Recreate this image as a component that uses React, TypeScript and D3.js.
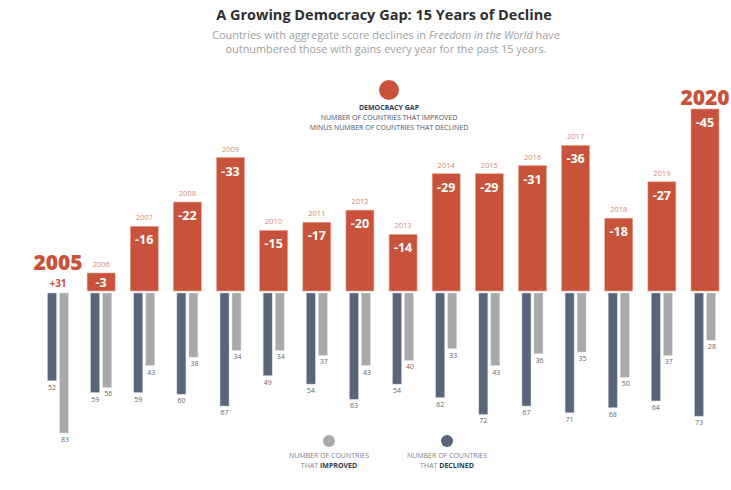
import React from "react";
import * as d3 from "d3";

const years = ["2005","2006","2007","2008","2009","2010","2011","2012","2013","2014","2015","2016","2017","2018","2019","2020"];
const improved = [83,56,43,38,34,34,37,43,40,33,43,36,35,50,37,28];
const declined = [52,59,59,60,67,49,54,63,54,62,72,67,71,68,64,73];
const gap = [31,-3,-16,-22,-33,-15,-17,-20,-14,-29,-29,-31,-36,-18,-27,-45];

const RED = "#c8523a";
const DARK = "#58657a";
const LIGHT = "#a9a9ab";
const FONT = "'Open Sans', Lato, sans-serif";

export default function App() {
  const W = 731, H = 490;
  const x = d3.scalePoint<string>().domain(years).range([58, 705]);
  const yGap = d3.scaleLinear().domain([0, 45]).range([291, 109]);
  const yLow = d3.scaleLinear().domain([0, 83]).range([293, 433]);
  const bw = 28, lw = 9;

  return (
    <svg width={W} height={H} style={{ position: "absolute", left: 0, top: 0, background: "#fff" }} fontFamily={FONT}>
      <text x={384} y={20} textAnchor="middle" fontSize={14.5} fontWeight={700} fill="#2e2e2e">A Growing Democracy Gap: 15 Years of Decline</text>
      <text x={386} y={39} textAnchor="middle" fontSize={10.9} fill="#a0a0a0">
        Countries with aggregate score declines in <tspan fontStyle="italic">Freedom in the World</tspan> have
      </text>
      <text x={386} y={53} textAnchor="middle" fontSize={10.9} fill="#a0a0a0">outnumbered those with gains every year for the past 15 years.</text>

      <circle cx={389} cy={90} r={10} fill={RED} />
      <text x={389} y={110} textAnchor="middle" fontSize={7} fontWeight={700} fill="#2f3a4e">DEMOCRACY GAP</text>
      <text x={389} y={120} textAnchor="middle" fontSize={7} fill="#4a5264">NUMBER OF COUNTRIES THAT IMPROVED</text>
      <text x={389} y={130} textAnchor="middle" fontSize={7} fill="#4a5264">MINUS NUMBER OF COUNTRIES THAT DECLINED</text>

      {years.map((yr, i) => {
        const cx = x(yr)!;
        const g = gap[i];
        const els: React.ReactNode[] = [];
        if (g < 0) {
          let top = yGap(-g);
          const h0 = yGap(0) - top;
          const h = Math.max(h0, 18);
          top = yGap(0) - h;
          els.push(<rect key="b" x={cx - bw / 2} y={top} width={bw} height={h} fill={RED} stroke="#e9a898" strokeWidth={0.6} />);
          const ly = h < 30 ? top + h / 2 + 4.5 : top + 18;
          els.push(<text key="v" x={cx} y={ly} textAnchor="middle" fontSize={12.5} fontWeight={700} fill="#fff">{g}</text>);
          if (i === years.length - 1) {
            els.push(<text key="y" x={cx} y={top - 4} textAnchor="middle" fontSize={21} fontWeight={800} fill={RED}>{yr}</text>);
          } else {
            els.push(<text key="y" x={cx} y={top - 6} textAnchor="middle" fontSize={7.5} fill="#d58a70">{yr}</text>);
          }
        } else {
          els.push(<text key="y" x={cx} y={270} textAnchor="middle" fontSize={21} fontWeight={800} fill={RED}>{yr}</text>);
          els.push(<text key="v" x={cx} y={287} textAnchor="middle" fontSize={10} fontWeight={700} fill={RED}>+{g}</text>);
        }
        const dx = cx - 10.5, lx = cx + 1.5;
        const dEnd = yLow(declined[i]), lEnd = yLow(improved[i]);
        els.push(<rect key="d" x={dx} y={yLow(0)} width={lw} height={dEnd - yLow(0)} fill={DARK} stroke="#c9ced6" strokeWidth={0.5} />);
        els.push(<rect key="l" x={lx} y={yLow(0)} width={lw} height={lEnd - yLow(0)} fill={LIGHT} stroke="#dcdcdc" strokeWidth={0.5} />);
        els.push(<text key="dl" x={dx + lw / 2} y={dEnd + 9} textAnchor="middle" fontSize={7} fill="#666">{declined[i]}</text>);
        els.push(<text key="ll" x={lx + lw / 2 + 1} y={lEnd + 9} textAnchor="middle" fontSize={7} fill="#666">{improved[i]}</text>);
        return <g key={yr}>{els}</g>;
      })}

      <circle cx={329} cy={441} r={6} fill={LIGHT} />
      <text x={329} y={458} textAnchor="middle" fontSize={7} fill="#7a7f88">NUMBER OF COUNTRIES</text>
      <text x={329} y={468} textAnchor="middle" fontSize={7} fill="#7a7f88">THAT <tspan fontWeight={700} fill="#2f3a4e">IMPROVED</tspan></text>
      <circle cx={447} cy={441} r={6} fill={DARK} />
      <text x={447} y={458} textAnchor="middle" fontSize={7} fill="#7a7f88">NUMBER OF COUNTRIES</text>
      <text x={447} y={468} textAnchor="middle" fontSize={7} fill="#7a7f88">THAT <tspan fontWeight={700} fill="#2f3a4e">DECLINED</tspan></text>
    </svg>
  );
}
